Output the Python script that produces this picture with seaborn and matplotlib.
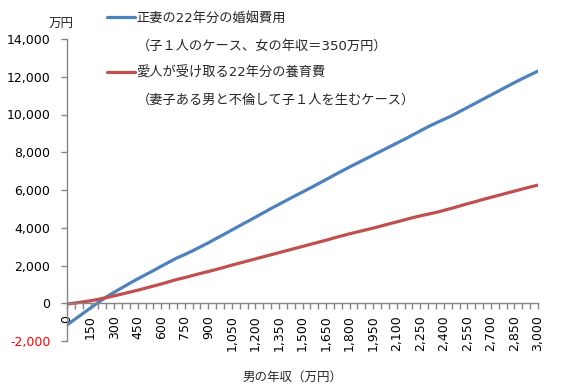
import matplotlib
matplotlib.use("Agg")
import matplotlib.pyplot as plt
import seaborn as sns
from matplotlib.lines import Line2D
from matplotlib.ticker import FuncFormatter, MultipleLocator

BLUE = "#4F81BD"
RED = "#C0504D"
AXIS_GRAY = "#868686"

# 男の年収（万円）
income = [
    0, 50, 100, 150, 200, 250, 300, 350, 400, 450,
    500, 550, 600, 650, 700, 750, 800, 850, 900, 950,
    1000, 1050, 1100, 1150, 1200, 1250, 1300, 1350, 1400, 1450,
    1500, 1550, 1600, 1650, 1700, 1750, 1800, 1850, 1900, 1950,
    2000, 2050, 2100, 2150, 2200, 2250, 2300, 2350, 2400, 2450,
    2500, 2550, 2600, 2650, 2700, 2750, 2800, 2850, 2900, 2950,
    3000,
]

# 正妻の22年分の婚姻費用（万円）
wife_cost = [
    -1150, -850, -550, -250, 50, 330, 580, 820, 1060, 1290,
    1510, 1730, 1960, 2180, 2400, 2580, 2780, 2990, 3200, 3430,
    3650, 3880, 4110, 4330, 4560, 4790, 5020, 5240, 5460, 5680,
    5890, 6110, 6330, 6550, 6780, 7000, 7220, 7430, 7640, 7850,
    8060, 8270, 8480, 8690, 8910, 9130, 9350, 9550, 9740, 9930,
    10150, 10370, 10590, 10810, 11030, 11250, 11470, 11690, 11900, 12100,
    12300,
]

# 愛人が受け取る22年分の養育費（万円）
mistress_cost = [
    -40, 10, 70, 130, 210, 300, 390, 490, 590, 690,
    800, 910, 1020, 1140, 1260, 1360, 1470, 1580, 1680, 1790,
    1900, 2020, 2130, 2240, 2350, 2460, 2570, 2680, 2790, 2900,
    3010, 3120, 3230, 3340, 3460, 3570, 3680, 3780, 3880, 3980,
    4090, 4200, 4310, 4420, 4530, 4630, 4720, 4810, 4920, 5030,
    5150, 5270, 5380, 5500, 5610, 5720, 5830, 5940, 6050, 6160,
    6260,
]

labels = [
    "正妻の22年分の婚姻費用",
    "（子１人のケース、女の年収＝350万円）",
    "愛人が受け取る22年分の養育費",
    "（妻子ある男と不倫して子１人を生むケース）",
]

sns.set_style("white")
plt.rcParams["font.family"] = ["DejaVu Sans", "Noto Sans CJK JP"]

fig = plt.figure(figsize=(5.74, 3.92), dpi=100)
ax = fig.add_axes([67 / 574, 51 / 392, 471 / 574, 302 / 392])

sns.lineplot(x=income, y=wife_cost, color=BLUE, linewidth=2.3, ax=ax)
sns.lineplot(x=income, y=mistress_cost, color=RED, linewidth=2.3, ax=ax)

ax.set_xlim(0, 3000)
ax.set_ylim(-2000, 14000)
ax.yaxis.set_major_locator(MultipleLocator(2000))
ax.xaxis.set_major_locator(MultipleLocator(150))
ax.xaxis.set_minor_locator(MultipleLocator(50))
comma = FuncFormatter(lambda v, p: f"{int(v):,}")
ax.yaxis.set_major_formatter(comma)
ax.xaxis.set_major_formatter(comma)

for side in ["top", "right"]:
    ax.spines[side].set_visible(False)
ax.spines["bottom"].set_position(("data", 0))
for side in ["left", "bottom"]:
    ax.spines[side].set_color(AXIS_GRAY)
    ax.spines[side].set_linewidth(1.0)

ax.tick_params(axis="y", which="both", left=True, direction="out", length=4,
               width=1, color=AXIS_GRAY, pad=8, labelsize=9, labelcolor="black")
ax.tick_params(axis="x", which="both", bottom=True, direction="out", length=4.5,
               width=1, color=AXIS_GRAY, pad=4, labelsize=9, labelrotation=90,
               labelcolor="black")

ax.set_xlabel("男の年収（万円）", fontsize=9)
ax.xaxis.set_label_coords(0.478, -0.10)
ax.set_ylabel("万円", fontsize=9, rotation=0, ha="center", va="center")
ax.yaxis.set_label_coords(-0.013, 1.05)

handles = [
    Line2D([], [], color=BLUE, linewidth=2.3),
    Line2D([], [], color="none"),
    Line2D([], [], color=RED, linewidth=2.3),
    Line2D([], [], color="none"),
]
fig.legend(handles, labels, loc="upper left", bbox_to_anchor=(107 / 574, 1 - 12 / 392),
           frameon=False, fontsize=9.5, handlelength=2.1, handletextpad=0.15,
           labelspacing=1.08, borderpad=0, borderaxespad=0)

fig.canvas.draw()
for lbl in ax.get_yticklabels():
    if lbl.get_text().startswith("-"):
        lbl.set_color("#FF0000")

fig.savefig("out.png", dpi=100)
